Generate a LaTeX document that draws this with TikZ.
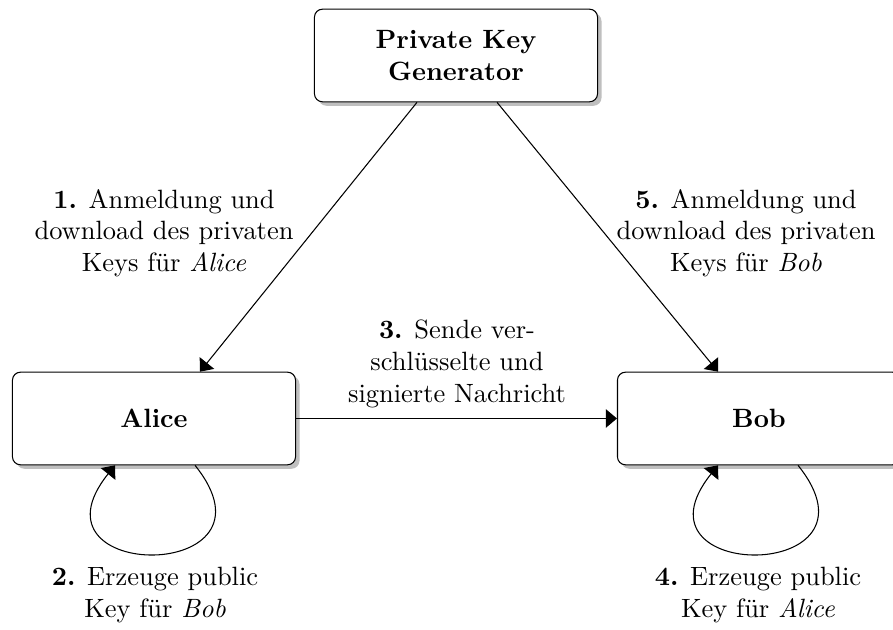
\documentclass[tikz,border=0pt]{standalone}
\usetikzlibrary{arrows.meta,shadows,calc}

\tikzset{
  party/.style={draw, fill=white, rounded corners=3pt, align=center,
    minimum width=107pt, minimum height=35pt, font=\bfseries,
    drop shadow={shadow xshift=1.5pt, shadow yshift=-1.5pt, fill=black!25, opacity=1}},
  steptext/.style={align=center, inner sep=0pt},
  flow/.style={-{Triangle[length=4.2pt,width=7pt]}, line width=0.4pt},
}

\begin{document}
\begin{tikzpicture}[x=0.378pt, y=-0.378pt]
  \useasboundingbox (0,0) rectangle (893,630);

  % the three parties
  \node[party] (pkg)   at (456,55.5) {Private Key\\Generator};
  \node[party] (alice) at (154,418.5) {Alice};
  \node[party] (bob)   at (759,418.5) {Bob};

  % key download from the generator
  \draw[flow] ($(pkg.south)+(-39,0)$) -- ($(alice.north)+(46,0)$);
  \draw[flow] ($(pkg.south)+(41,0)$) -- ($(bob.north)+(-41,0)$);

  % message from Alice to Bob
  \draw[flow] (alice.east) -- (bob.west);

  % local public-key generation
  \draw[flow] ($(alice.south)+(41,0)$) .. controls (290,583.5) and (20,583.5) .. ($(alice.south)+(-39,0)$);
  \draw[flow] ($(bob.south)+(39,0)$) .. controls (893,583.5) and (623,583.5) .. ($(bob.south)+(-41,0)$);

  % step labels
  \node[steptext] (l1) at (164,233) {\textbf{1.} Anmeldung und\\download des privaten\\Keys für \textit{Alice}};
  \node[steptext] (l5) at (746,233) {\textbf{5.} Anmeldung und\\download des privaten\\Keys für \textit{Bob}};
  \node[steptext] (l3) at (457,364) {\textbf{3.} Sende ver-\\schlüsselte und\\signierte Nachricht};
  \node[steptext] (l2) at (155,595) {\textbf{2.} Erzeuge public\\Key für \textit{Bob}};
  \node[steptext] (l4) at (758,595) {\textbf{4.} Erzeuge public\\Key für \textit{Alice}};
\end{tikzpicture}
\end{document}
